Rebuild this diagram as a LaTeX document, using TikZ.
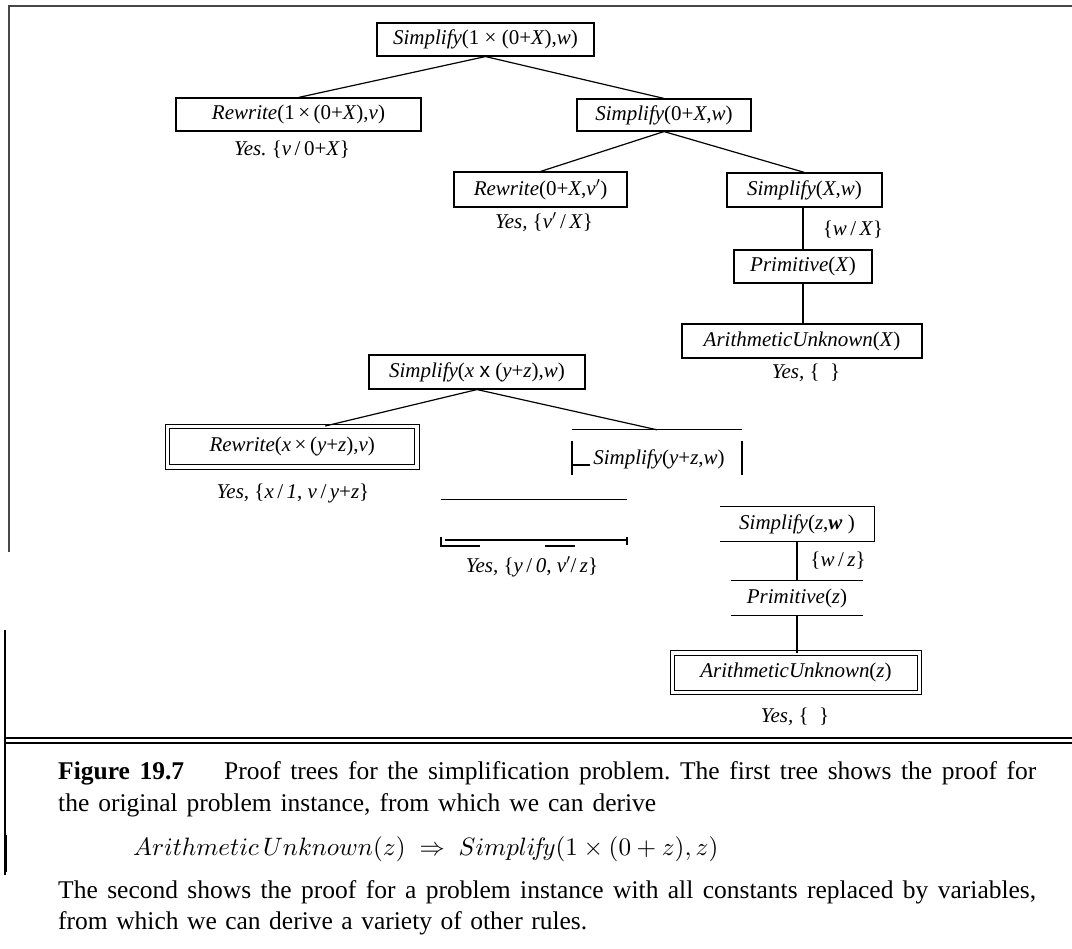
\documentclass[tikz,border=0pt]{standalone}
\usepackage[no-math]{fontspec}
\setmainfont{Liberation Serif}
\setsansfont{Liberation Sans}
\usepackage{graphicx}
\newcommand{\tx}[1]{\textit{#1}}
\begin{document}
\frenchspacing
\begin{tikzpicture}[x=1bp,y=-1bp,
  lbl/.style={font=\fontsize{21bp}{24bp}\selectfont, inner sep=0pt},
  bx/.style={lbl, draw, line width=1.1bp},
  dbx/.style={lbl, draw, line width=1bp, double, double distance=3.6bp},
  ghost/.style={lbl},
  conn/.style={line width=1.2bp},
  frag/.style={line width=1.1bp},
  frm/.style={draw=black!72, line width=1.8bp},
  captxt/.style={font=\fontsize{25.5bp}{30bp}\selectfont, inner sep=0pt, anchor=base west}
]
\path[use as bounding box] (0,0) rectangle (1072,949);

% frame
\draw[frm] (1072,6) -- (9,6) -- (9,552);
\draw[line width=1.3bp] (5,630) -- (5,875);
\draw[line width=3bp] (5,835) -- (5,872);
\draw[line width=1.4bp] (5,738) -- (1072,738);
\draw[line width=1.4bp] (5,743) -- (1072,743);

% ---------- first tree ----------
\node[bx, minimum width=217bp, minimum height=33bp] (n1) at (485.5,39.5) {\tx{Simplify}(1 × (0+\tx{X}),\tx{w})};
\node[bx, minimum width=245bp, minimum height=33bp] (n2) at (298.5,114.5) {\tx{Rewrite}(1\,×\,(0+\tx{X}),\tx{v})};
\node[lbl] (y2) at (292,150) {\tx{Yes.} \{\tx{v}\,/\,0+\tx{X}\}};
\node[bx, minimum width=174bp, minimum height=32bp] (n3) at (664,115) {\tx{Simplify}(0+\tx{X},\tx{w})};
\node[bx, minimum width=173bp, minimum height=35bp] (n4) at (540.5,189.5) {\tx{Rewrite}(0+\tx{X},\tx{v}$'$)};
\node[lbl] (y4) at (544,222) {\tx{Yes,} \{\tx{v}$'$\,/\,\tx{X}\}};
\node[bx, minimum width=155bp, minimum height=34bp] (n5) at (804.5,190) {\tx{Simplify}(\tx{X},\tx{w})};
\node[lbl] (l5) at (853,230) {\{\tx{w}\,/\,\tx{X}\}};
\node[bx, minimum width=138bp, minimum height=33bp] (n6) at (803,266.5) {\tx{Primitive}(\tx{X})};
\node[bx, minimum width=240bp, minimum height=34bp] (n7) at (802,341) {\tx{ArithmeticUnknown}(\tx{X})};
\node[lbl] (y7) at (806,373) {\tx{Yes,} \{\ \ \}};

\draw[conn] (n1.south) -- (n2.north);
\draw[conn] (n1.south) -- (n3.north);
\draw[conn] (n3.south) -- (n4.north);
\draw[conn] (n3.south) -- (n5.north);
\draw[conn] (n6.north |- n5.south) -- (n6.north);
\draw[conn] (n6.south) -- (n6.south |- n7.north);

% ---------- second tree ----------
\node[bx, minimum width=216bp, minimum height=34bp] (m1) at (477,372) {\tx{Simplify}(\tx{x} {\sffamily x} (\tx{y}+\tx{z}),\tx{w})};
\node[dbx, minimum width=249.5bp, minimum height=40.5bp] (m2) at (292.25,446.75) {\tx{Rewrite}(\tx{x}\,×\,(\tx{y}+\tx{z}),\tx{v})};
\node[lbl] (y8) at (293,493) {\tx{Yes,} \{\tx{x}\,/\,\tx{1}, \tx{v}\,/\,\tx{y}+\tx{z}\}};

\node[ghost, minimum width=170bp, minimum height=45bp] (m3) at (657,452.5) {};
\node[lbl] (m3t) at (659,459) {\tx{Simplify}(\tx{y}+\tx{z},\tx{w})};
\draw[frag] (m3.north west) -- (m3.north east);
\draw[frag] (572,441) -- (572,475);
\draw[frag] (742,441) -- (742,475);
\draw[frag] (572,465) -- (590,465);

\node[ghost, minimum width=186bp, minimum height=40bp] (m4) at (534,520) {};
\draw[frag] (m4.north west) -- (m4.north east);
\draw[frag] (445,540) -- (627,540);
\draw[frag] (441,546) -- (480,546);
\draw[frag] (545,546) -- (575,546);
\draw[frag] (441,537) -- (441,547);
\draw[frag] (627,537) -- (627,545);
\node[lbl] (y9) at (532,567) {\tx{Yes,} \{\tx{y}\,/\,\tx{0}, \tx{v}$'$/\,\tx{z}\}};

\node[ghost, minimum width=154bp, minimum height=34bp] (m5) at (797,524) {\tx{Simplify}(\tx{z},\textbf{\tx{w}}\ )};
\draw[frag] (m5.north west) -- (m5.north east) -- (m5.south east) -- (m5.south west);
\node[lbl] (l9) at (838,561) {\{\tx{w}\,/\,\tx{z}\}};
\node[ghost, minimum width=132bp, minimum height=34bp] (m6) at (797,598) {\tx{Primitive}(\tx{z})};
\draw[frag] (m6.north west) -- (m6.north east);
\draw[frag] (m6.south west) -- (m6.south east);
\node[dbx, minimum width=247bp, minimum height=39.5bp] (m7) at (796,672.75) {\tx{ArithmeticUnknown}(\tx{z})};
\node[lbl] (y10) at (795,717) {\tx{Yes,} \{\ \ \}};

\draw[conn] (m1.south) -- ([xshift=33bp]m2.north);
\draw[conn] (m1.south) -- (m3.north);
\draw[conn] (m5.south) -- (m5.south |- m6.north);
\draw[conn] (m6.south) -- (m6.south |- m7.north);

% ---------- caption ----------
\node[captxt] (c1) at (58,779) {\hbox to 978bp{\textbf{Figure 19.7}\hspace{40bp}Proof trees for the simplification problem. The first tree shows the proof for}};
\node[captxt] (c2) at (58,811) {\hbox to 598bp{the original problem instance, from which we can derive}};
\node[inner sep=0pt, anchor=base west] (c3) at (133,855) {\resizebox{585bp}{!}{$Arithmetic\,Unknown(z)\;\Rightarrow\;Simpli\!f\!y(1\times(0+z),z)$}};
\node[captxt] (c4) at (58,898) {\hbox to 978bp{The second shows the proof for a problem instance with all constants replaced by variables,}};
\node[captxt] (c5) at (58,929) {\hbox to 529bp{from which we can derive a variety of other rules.}};
\end{tikzpicture}
\end{document}
